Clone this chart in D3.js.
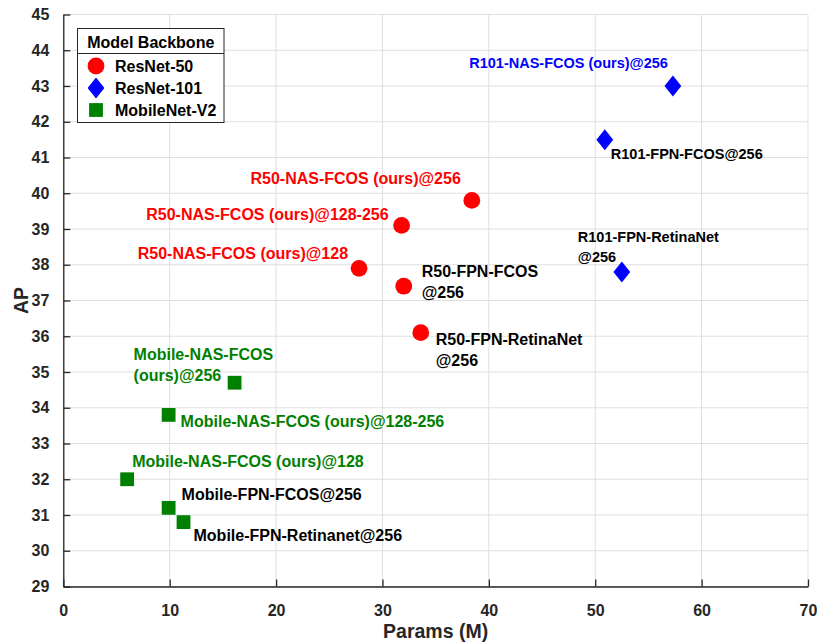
<!DOCTYPE html>
<html>
<head>
<meta charset="utf-8">
<script src="https://cdn.jsdelivr.net/npm/d3@7"></script>
<style>
  html, body { margin: 0; padding: 0; background: #fff; }
  svg { display: block; font-family: "Liberation Sans", Arial, sans-serif; font-weight: bold; }
</style>
</head>
<body>
<svg id="chart" width="817" height="643"></svg>
<script>
// Detector models: parameter count (M) vs. COCO AP
const names = [
  "R101-NAS-FCOS (ours)@256",
  "R101-FPN-FCOS@256",
  "R101-FPN-RetinaNet\n@256",
  "R50-NAS-FCOS (ours)@256",
  "R50-NAS-FCOS (ours)@128-256",
  "R50-NAS-FCOS (ours)@128",
  "R50-FPN-FCOS\n@256",
  "R50-FPN-RetinaNet\n@256",
  "Mobile-NAS-FCOS\n(ours)@256",
  "Mobile-NAS-FCOS (ours)@128-256",
  "Mobile-NAS-FCOS (ours)@128",
  "Mobile-FPN-FCOS@256",
  "Mobile-FPN-Retinanet@256"
];
const params = [57.3, 50.9, 52.5, 38.4, 31.8, 27.8, 32.0, 33.6, 16.1, 9.9, 6.0, 9.9, 11.3];
const ap     = [43.0, 41.5, 37.8, 39.8, 39.1, 37.9, 37.4, 36.1, 34.7, 33.8, 32.0, 31.2, 30.8];
const backbone = ["ResNet-101", "ResNet-101", "ResNet-101",
                  "ResNet-50", "ResNet-50", "ResNet-50", "ResNet-50", "ResNet-50",
                  "MobileNet-V2", "MobileNet-V2", "MobileNet-V2", "MobileNet-V2", "MobileNet-V2"];
const ours = [true, false, false, true, true, true, false, false, true, true, true, false, false];

const backbones = ["ResNet-50", "ResNet-101", "MobileNet-V2"];
const xTicks = [0, 10, 20, 30, 40, 50, 60, 70];
const yTicks = d3.range(29, 46);

// Label placement relative to each marker (pixels): dx, baseline dy, anchor, font size
const labelPlacement = [
  { dx: -5,   dy: -18, anchor: "end",   size: 14.5 },
  { dx: 6,    dy: 19,  anchor: "start", size: 14.5 },
  { dx: -44,  dy: -29.5, anchor: "start", size: 14.5 },
  { dx: -11,  dy: -16, anchor: "end",   size: 16 },
  { dx: -13,  dy: -5,  anchor: "end",   size: 16 },
  { dx: -11,  dy: -9,  anchor: "end",   size: 16 },
  { dx: 18,   dy: -9,  anchor: "start", size: 16 },
  { dx: 15,   dy: 12,  anchor: "start", size: 16 },
  { dx: -101, dy: -23, anchor: "start", size: 16 },
  { dx: 12,   dy: 12,  anchor: "start", size: 16 },
  { dx: 5,    dy: -12, anchor: "start", size: 16 },
  { dx: 13,   dy: -8,  anchor: "start", size: 16 },
  { dx: 10,   dy: 19,  anchor: "start", size: 16 }
];

const colorOf = d3.scaleOrdinal().domain(backbones).range(["#ff0000", "#0000ff", "#008000"]);
const symbolOf = d3.scaleOrdinal().domain(backbones).range(["circle", "diamond", "square"]);

const svg = d3.select("#chart");
const x = d3.scaleLinear().domain([0, 70]).range([63.3, 808]);
const y = d3.scaleLinear().domain([29, 45]).range([586.5, 14.5]);
const axisColor = "#262626";

// Grid
const grid = svg.append("g");
grid.selectAll("line.v").data(xTicks).join("line")
  .attr("x1", d => x(d)).attr("x2", d => x(d))
  .attr("y1", y(29)).attr("y2", y(45))
  .attr("stroke", "#dfdfdf").attr("stroke-width", 1);
grid.selectAll("line.h").data(yTicks).join("line")
  .attr("x1", x(0)).attr("x2", x(70))
  .attr("y1", d => y(d)).attr("y2", d => y(d))
  .attr("stroke", "#dfdfdf").attr("stroke-width", 1);

// Axes with inward ticks
const xAxis = svg.append("g").attr("transform", `translate(0,${y(29)})`)
  .call(d3.axisBottom(x).tickValues(xTicks).tickSizeInner(-7).tickSizeOuter(0).tickPadding(18));
const yAxis = svg.append("g").attr("transform", `translate(${x(0)},0)`)
  .call(d3.axisLeft(y).tickValues(yTicks).tickSizeInner(-7).tickSizeOuter(0).tickPadding(14));
[xAxis, yAxis].forEach(g => {
  g.select(".domain").attr("stroke", axisColor).attr("stroke-width", 1.3);
  g.selectAll(".tick line").attr("stroke", axisColor).attr("stroke-width", 1.3);
  g.selectAll(".tick text").attr("fill", axisColor)
    .style("font-size", "16px").style("font-weight", "bold")
    .style("font-family", "'Liberation Sans', Arial, sans-serif");
});
xAxis.selectAll(".tick text").attr("dy", "0.71em");

// Axis titles
svg.append("text").attr("x", (x(0) + x(70)) / 2).attr("y", 638)
  .attr("text-anchor", "middle").attr("fill", axisColor)
  .style("font-size", "19.5px").text("Params (M)");
svg.append("text").attr("transform", `translate(28,${y(37)}) rotate(-90)`)
  .attr("text-anchor", "middle").attr("fill", axisColor)
  .style("font-size", "19.5px").text("AP");

// Marker shapes
function markerPath(kind) {
  if (kind === "circle") return d3.symbol(d3.symbolCircle, Math.PI * 8.4 * 8.4)();
  if (kind === "square") return d3.symbol(d3.symbolSquare, 13.8 * 13.8)();
  return "M0,-10.5L8.4,0L0,10.5L-8.4,0Z";
}

// Points
const pts = params.map((p, i) => ({ p, a: ap[i], b: backbone[i], name: names[i], ours: ours[i], pl: labelPlacement[i] }));
svg.append("g").selectAll("path").data(pts).join("path")
  .attr("transform", d => `translate(${x(d.p)},${y(d.a)})`)
  .attr("d", d => markerPath(symbolOf(d.b)))
  .attr("fill", d => colorOf(d.b));

// Labels
const labels = svg.append("g").selectAll("text").data(pts).join("text")
  .attr("x", d => x(d.p) + d.pl.dx)
  .attr("y", d => y(d.a) + d.pl.dy)
  .attr("text-anchor", d => d.pl.anchor)
  .attr("fill", d => d.ours ? colorOf(d.b) : "#000")
  .style("font-size", d => d.pl.size + "px");
labels.each(function(d) {
  const lines = d.name.split("\n");
  d3.select(this).selectAll("tspan").data(lines).join("tspan")
    .attr("x", x(d.p) + d.pl.dx)
    .attr("dy", (l, i) => i === 0 ? 0 : d.pl.size * 1.32)
    .text(l => l);
});

// Legend
const lg = svg.append("g").attr("transform", "translate(77.5,28.5)");
lg.append("rect").attr("width", 146.5).attr("height", 94)
  .attr("fill", "#fff").attr("stroke", axisColor).attr("stroke-width", 1);
lg.append("line").attr("x1", 0).attr("x2", 146.5).attr("y1", 25).attr("y2", 25)
  .attr("stroke", axisColor).attr("stroke-width", 1);
lg.append("text").attr("x", 73.25).attr("y", 19.3).attr("text-anchor", "middle")
  .attr("fill", "#000").style("font-size", "16px").text("Model Backbone");
const items = lg.selectAll("g.item").data(backbones).join("g")
  .attr("transform", (d, i) => `translate(0,${37.5 + i * 22})`);
items.append("path").attr("transform", "translate(18.5,0)")
  .attr("d", d => markerPath(symbolOf(d))).attr("fill", d => colorOf(d));
items.append("text").attr("x", 37.5).attr("y", 6.3)
  .attr("fill", "#000").style("font-size", "16px").text(d => d);
</script>
</body>
</html>
